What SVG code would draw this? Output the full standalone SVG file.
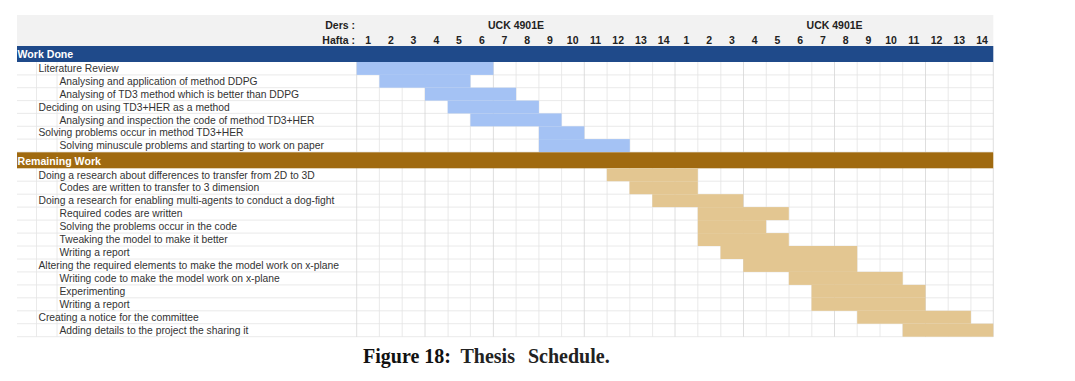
<svg xmlns="http://www.w3.org/2000/svg" width="1075" height="381" viewBox="0 0 1075 381">
<style>
.hdr{font-family:"Liberation Sans",Arial,sans-serif;font-size:10.5px;font-weight:bold;fill:#222}
.num{text-anchor:middle}
.sec{font-family:"Liberation Sans",Arial,sans-serif;font-size:10.6px;font-weight:bold;fill:#fff}
.t{font-family:"Liberation Sans",Arial,sans-serif;font-size:10.3px;fill:#333}
.g{stroke:#e4e4e4;stroke-width:0.8;fill:none}
.gd{stroke:#d6d6d6;stroke-width:0.8;fill:none}
.b{fill:#a4c2f4}
.r{fill:#e3c691}
.cap{font-family:"Liberation Serif","Times New Roman",serif;font-size:20px;font-weight:bold;fill:#111}
</style>
<rect x="0" y="0" width="1075" height="381" fill="#fff"/>
<g id="header">
<rect x="17" y="15" width="976.3" height="31" fill="#f2f2f2"/>
<text class="hdr" x="355" y="28.5" text-anchor="end">Ders :</text>
<text class="hdr" x="355" y="43.5" text-anchor="end">Hafta :</text>
<text class="hdr" x="516" y="28.5" text-anchor="middle">UCK 4901E</text>
<text class="hdr" x="834.6" y="28.5" text-anchor="middle">UCK 4901E</text>
<g class="hdr num">
<text x="368.1" y="43.5">1</text><text x="390.8" y="43.5">2</text><text x="413.5" y="43.5">3</text><text x="436.3" y="43.5">4</text><text x="459.0" y="43.5">5</text><text x="481.8" y="43.5">6</text><text x="504.5" y="43.5">7</text><text x="527.2" y="43.5">8</text><text x="550.0" y="43.5">9</text><text x="572.7" y="43.5">10</text><text x="595.5" y="43.5">11</text><text x="618.2" y="43.5">12</text><text x="640.9" y="43.5">13</text><text x="663.7" y="43.5">14</text>
<text x="686.4" y="43.5">1</text><text x="709.2" y="43.5">2</text><text x="731.9" y="43.5">3</text><text x="754.6" y="43.5">4</text><text x="777.4" y="43.5">5</text><text x="800.1" y="43.5">6</text><text x="822.9" y="43.5">7</text><text x="845.6" y="43.5">8</text><text x="868.3" y="43.5">9</text><text x="891.1" y="43.5">10</text><text x="913.8" y="43.5">11</text><text x="936.6" y="43.5">12</text><text x="959.3" y="43.5">13</text><text x="982.0" y="43.5">14</text>
</g>
</g>
<g id="grid">
<path class="g" d="M17 74.9H993.3M17 87.7H993.3M17 100.6H993.3M17 113.4H993.3M17 126.3H993.3M17 139.1H993.3M17 152H993.3"/>
<path class="g" d="M17 181.2H993.3M17 194.2H993.3M17 207.1H993.3M17 220.1H993.3M17 233.1H993.3M17 246H993.3M17 259H993.3M17 271.9H993.3M17 284.9H993.3M17 297.8H993.3M17 310.8H993.3M17 323.7H993.3M17 336.7H993.3"/>
<path class="g" d="M379.4 62V152M402.2 62V152M448.1 62V152M470.4 62V152M516.1 62V152M538.9 62V152M561.6 62V152M607.1 62V152M629.8 62V152M652.6 62V152M697.8 62V152M720.8 62V152M766.3 62V152M789 62V152M811.8 62V152M857.2 62V152M880 62V152M902.7 62V152M948.2 62V152M970.9 62V152"/>
<path class="g" d="M379.4 168V336.7M402.2 168V336.7M448.1 168V336.7M470.4 168V336.7M516.1 168V336.7M538.9 168V336.7M561.6 168V336.7M607.1 168V336.7M629.8 168V336.7M652.6 168V336.7M697.8 168V336.7M720.8 168V336.7M766.3 168V336.7M789 168V336.7M811.8 168V336.7M857.2 168V336.7M880 168V336.7M902.7 168V336.7M948.2 168V336.7M970.9 168V336.7"/>
<path class="gd" d="M356.7 62V152M425 62V152M493.4 62V152M584.3 62V152M675 62V152M743.5 62V152M834.5 62V152M925.5 62V152M993.3 62V152"/>
<path class="gd" d="M356.7 168V336.7M425 168V336.7M493.4 168V336.7M584.3 168V336.7M675 168V336.7M743.5 168V336.7M834.5 168V336.7M925.5 168V336.7M993.3 168V336.7"/>
<path class="g" d="M36.5 62V152M36.5 168V336.7M57 62V152M57 168V336.7"/>
</g>
<g id="work-done">
<rect x="17" y="46" width="976.3" height="16" fill="#1f4a8a"/>
<text class="sec" x="17.5" y="58">Work Done</text>
<rect class="b" x="356.7" y="62" width="136.7" height="12.9"/>
<rect class="b" x="379.4" y="74.9" width="91" height="12.8"/>
<rect class="b" x="425" y="87.7" width="91.1" height="12.9"/>
<rect class="b" x="447.7" y="100.6" width="91.2" height="12.8"/>
<rect class="b" x="470.4" y="113.4" width="91.2" height="12.9"/>
<rect class="b" x="538.9" y="126.3" width="45.4" height="12.8"/>
<rect class="b" x="538.9" y="139.1" width="90.9" height="12.9"/>
<text class="t" x="38.5" y="72.2">Literature Review</text>
<text class="t" x="59.5" y="85">Analysing and application of method DDPG</text>
<text class="t" x="59.5" y="97.8">Analysing of TD3 method which is better than DDPG</text>
<text class="t" x="38.5" y="110.7">Deciding on using TD3+HER as a method</text>
<text class="t" x="59.5" y="123.5">Analysing and inspection the code of method TD3+HER</text>
<text class="t" x="38.5" y="136.4">Solving problems occur in method TD3+HER</text>
<text class="t" x="59.5" y="149.2">Solving minuscule problems and starting to work on paper</text>
</g>
<g id="remaining-work">
<rect x="17" y="152.3" width="976.3" height="16" fill="#a06a10"/>
<text class="sec" x="17.5" y="164.5">Remaining Work</text>
<rect class="r" x="606.8" y="168.3" width="91" height="12.9"/>
<rect class="r" x="629.5" y="181.2" width="68.3" height="13"/>
<rect class="r" x="652.3" y="194.2" width="91" height="12.9"/>
<rect class="r" x="697.8" y="207.1" width="91" height="13"/>
<rect class="r" x="697.8" y="220.1" width="68.3" height="13"/>
<rect class="r" x="697.8" y="233.1" width="91" height="12.9"/>
<rect class="r" x="720.5" y="246" width="136.7" height="13"/>
<rect class="r" x="743.3" y="259" width="113.9" height="12.9"/>
<rect class="r" x="788.8" y="271.9" width="113.9" height="13"/>
<rect class="r" x="811.5" y="284.9" width="114" height="12.9"/>
<rect class="r" x="811.5" y="297.8" width="114" height="13"/>
<rect class="r" x="857.2" y="310.8" width="113.7" height="12.9"/>
<rect class="r" x="902.7" y="323.7" width="90.6" height="13"/>
<text class="t" x="38.5" y="178.5">Doing a research about differences to transfer from 2D to 3D</text>
<text class="t" x="59.5" y="191.4">Codes are written to transfer to 3 dimension</text>
<text class="t" x="38.5" y="204.4">Doing a research for enabling multi-agents to conduct a dog-fight</text>
<text class="t" x="59.5" y="217.3">Required codes are written</text>
<text class="t" x="59.5" y="230.3">Solving the problems occur in the code</text>
<text class="t" x="59.5" y="243.2">Tweaking the model to make it better</text>
<text class="t" x="59.5" y="256.2">Writing a report</text>
<text class="t" x="38.5" y="269.1">Altering the required elements to make the model work on x-plane</text>
<text class="t" x="59.5" y="282.1">Writing code to make the model work on x-plane</text>
<text class="t" x="59.5" y="295">Experimenting</text>
<text class="t" x="59.5" y="308">Writing a report</text>
<text class="t" x="38.5" y="320.9">Creating a notice for the committee</text>
<text class="t" x="59.5" y="333.9">Adding details to the project the sharing it</text>
</g>
<g id="caption">
<text class="cap" y="362.5"><tspan x="363">Figure 18:</tspan><tspan x="460.5" fill="#222">Thesis</tspan><tspan x="528" fill="#222">Schedule.</tspan></text>
</g>
</svg>
